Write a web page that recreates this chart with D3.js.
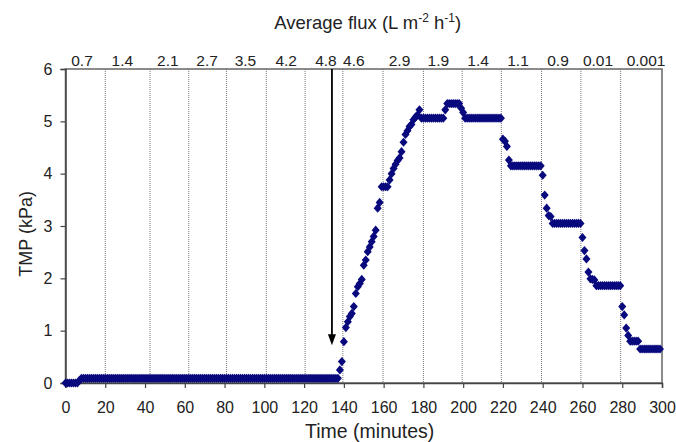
<!DOCTYPE html>
<meta charset="utf-8">
<script src="https://cdn.jsdelivr.net/npm/d3@7"></script>
<style>
  body { margin: 0; background: #fff; }
  text { font-family: "Liberation Sans", Arial, sans-serif; fill: #222; }
</style>
<div id="chart"></div>
<script>
// TMP readings, one per minute starting at t = 0
var sampleStep = 1;
var tmp = [
  0, 0, 0, 0, 0, 0, 0, 0.05,
  0.09, 0.09, 0.09, 0.09, 0.09, 0.09, 0.09, 0.09, 0.09, 0.09,
  0.09, 0.09, 0.09, 0.09, 0.09, 0.09, 0.09, 0.09, 0.09, 0.09,
  0.09, 0.09, 0.09, 0.09, 0.09, 0.09, 0.09, 0.09, 0.09, 0.09,
  0.09, 0.09, 0.09, 0.09, 0.09, 0.09, 0.09, 0.09, 0.09, 0.09,
  0.09, 0.09, 0.09, 0.09, 0.09, 0.09, 0.09, 0.09, 0.09, 0.09,
  0.09, 0.09, 0.09, 0.09, 0.09, 0.09, 0.09, 0.09, 0.09, 0.09,
  0.09, 0.09, 0.09, 0.09, 0.09, 0.09, 0.09, 0.09, 0.09, 0.09,
  0.09, 0.09, 0.09, 0.09, 0.09, 0.09, 0.09, 0.09, 0.09, 0.09,
  0.09, 0.09, 0.09, 0.09, 0.09, 0.09, 0.09, 0.09, 0.09, 0.09,
  0.09, 0.09, 0.09, 0.09, 0.09, 0.09, 0.09, 0.09, 0.09, 0.09,
  0.09, 0.09, 0.09, 0.09, 0.09, 0.09, 0.09, 0.09, 0.09, 0.09,
  0.09, 0.09, 0.09, 0.09, 0.09, 0.09, 0.09, 0.09, 0.09, 0.09,
  0.09, 0.09, 0.09, 0.09, 0.09, 0.09, 0.09, 0.09, 0.09, 0.09,
  0.25, 0.41, 0.79, 1.06, 1.17, 1.27, 1.33, 1.46, 1.71, 1.84,
  1.9, 1.98, 2.25, 2.35, 2.51, 2.6, 2.7, 2.8, 2.92, 3.34,
  3.45, 3.75, 3.75, 3.75, 3.75, 3.88, 4.0, 4.1, 4.18, 4.25,
  4.3, 4.42, 4.6, 4.75, 4.82, 4.9, 4.94, 5.03, 5.08, 5.12,
  5.22,
  5.06, 5.06, 5.06, 5.06, 5.06, 5.06, 5.06, 5.06, 5.06, 5.06, 5.06, 5.06,
  5.22,
  5.34, 5.34, 5.34, 5.34, 5.34, 5.34, 5.34,
  5.25, 5.17,
  5.06, 5.06, 5.06, 5.06, 5.06, 5.06, 5.06, 5.06, 5.06, 5.06,
  5.06, 5.06, 5.06, 5.06, 5.06, 5.06, 5.06, 5.06, 5.06,
  4.66, 4.62, 4.52, 4.26,
  4.15, 4.15, 4.15, 4.15, 4.15, 4.15, 4.15, 4.15,
  4.15, 4.15, 4.15, 4.15, 4.15, 4.15, 4.15, 4.15,
  3.97, 3.59, 3.34, 3.2, 3.18,
  3.05, 3.05, 3.05, 3.05, 3.05, 3.05, 3.05, 3.05,
  3.05, 3.05, 3.05, 3.05, 3.05, 3.05, 3.05,
  2.78, 2.53, 2.37, 2.12, 1.99, 1.98, 1.97,
  1.86, 1.86, 1.86, 1.86, 1.86, 1.86, 1.86, 1.86, 1.86, 1.86, 1.86, 1.86, 1.86,
  1.46, 1.3, 1.05, 0.91,
  0.8, 0.8, 0.8, 0.8, 0.8,
  0.65, 0.65, 0.65, 0.65, 0.65, 0.65, 0.65, 0.65, 0.65, 0.65, 0.65
];

// average flux for each period, and where its label sits (minutes)
var fluxLabels = ["0.7", "1.4", "2.1", "2.7", "3.5", "4.2", "4.8", "4.6", "2.9", "1.9", "1.4", "1.1", "0.9", "0.01", "0.001"];
var fluxLabelTimes = [8.3, 28.6, 51.5, 71.2, 90.5, 111, 131, 145, 168, 187.5, 207.5, 227.6, 247.7, 267.8, 292];
// boundaries between flux periods (minutes)
var periodBounds = [20, 42.5, 62, 81, 101, 120.5, 139.5, 159.7, 180, 199.5, 219.2, 239.4, 259.2, 279.2];
// arrow marking the critical flux
var arrowTime = 134, arrowTip = 0.72;

var margin = {top: 69, right: 14, bottom: 59, left: 65.5},
    width = 676 - margin.left - margin.right,
    height = 442 - margin.top - margin.bottom;

var svg = d3.select("#chart")
  .append("svg")
    .attr("width", 676)
    .attr("height", 442)
  .append("g")
    .attr("transform", "translate(" + margin.left + "," + margin.top + ")");

var x = d3.scaleLinear().domain([0, 300]).range([0, width]);
var y = d3.scaleLinear().domain([0, 6]).range([height, 0]);

// dotted period boundaries
svg.append("g")
  .selectAll("line")
  .data(periodBounds)
  .enter().append("line")
    .attr("x1", function(d) { return x(d); })
    .attr("x2", function(d) { return x(d); })
    .attr("y1", 0)
    .attr("y2", height)
    .attr("stroke", "#777")
    .attr("stroke-width", 1)
    .attr("stroke-dasharray", "1,1");

// frame
svg.append("rect")
  .attr("width", width)
  .attr("height", height)
  .attr("fill", "none")
  .attr("stroke", "#666")
  .attr("stroke-width", 1.5);

// axes
var xAxis = svg.append("g")
  .attr("transform", "translate(0," + height + ")")
  .call(d3.axisBottom(x).tickValues(d3.range(0, 301, 20)).tickSize(5).tickPadding(14));
var yAxis = svg.append("g")
  .call(d3.axisLeft(y).ticks(6).tickSize(5).tickPadding(8));
[xAxis, yAxis].forEach(function(a) {
  a.selectAll("path").attr("stroke", "#444").attr("stroke-width", 1.5);
  a.selectAll("line").attr("stroke", "#444").attr("stroke-width", 1.2);
  a.selectAll("text")
    .style("font-family", "'Liberation Sans', Arial, sans-serif")
    .style("font-size", "16px")
    .attr("fill", "#222");
});

// flux labels along the top
svg.append("g")
  .selectAll("text")
  .data(fluxLabels)
  .enter().append("text")
    .attr("x", function(d, i) { return x(fluxLabelTimes[i]); })
    .attr("y", -3)
    .attr("text-anchor", "middle")
    .style("font-size", "15.5px")
    .text(function(d) { return d; });

// data points
var diamond = "M0,-4.6L4,0L0,4.6L-4,0Z";
svg.append("g")
  .selectAll("path")
  .data(tmp)
  .enter().append("path")
    .attr("d", diamond)
    .attr("transform", function(d, i) { return "translate(" + x(i * sampleStep) + "," + y(d) + ")"; })
    .attr("fill", "#09097e");

// arrow
var ax = x(arrowTime), tipY = y(arrowTip);
svg.append("line")
  .attr("x1", ax).attr("x2", ax)
  .attr("y1", 0).attr("y2", tipY - 8)
  .attr("stroke", "#000")
  .attr("stroke-width", 1.8);
svg.append("path")
  .attr("d", "M" + (ax - 4) + "," + (tipY - 11) + "L" + (ax + 4) + "," + (tipY - 11) + "L" + ax + "," + tipY + "Z")
  .attr("fill", "#000");

// titles
var title = svg.append("text")
  .attr("x", x(152))
  .attr("y", -40)
  .attr("text-anchor", "middle")
  .style("font-size", "18.5px");
title.append("tspan").text("Average flux (L m");
title.append("tspan").attr("dy", -7).style("font-size", "12px").text("-2");
title.append("tspan").attr("dy", 7).text(" h");
title.append("tspan").attr("dy", -7).style("font-size", "12px").text("-1");
title.append("tspan").attr("dy", 7).text(")");

svg.append("text")
  .attr("x", x(153))
  .attr("y", height + 55)
  .attr("text-anchor", "middle")
  .style("font-size", "19.5px")
  .text("Time (minutes)");

svg.append("text")
  .attr("transform", "rotate(-90)")
  .attr("x", -(y(2.85)))
  .attr("y", -34)
  .attr("text-anchor", "middle")
  .style("font-size", "18px")
  .text("TMP (kPa)");
</script>
